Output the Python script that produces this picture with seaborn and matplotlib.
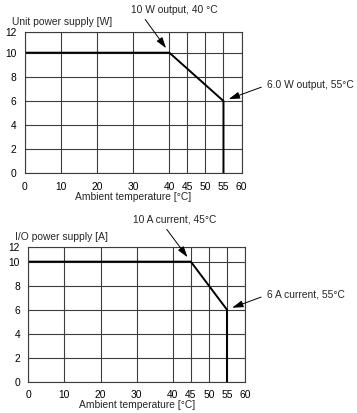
import matplotlib
matplotlib.use('Agg')
import matplotlib.pyplot as plt
import seaborn as sns

# ── data ──────────────────────────────────────────────
unit_temp = [0, 40, 55, 55]
unit_power = [10, 10, 6, 0]
io_temp = [0, 45, 55, 55]
io_current = [10, 10, 6, 0]

x_ticks = [0, 10, 20, 30, 40, 45, 50, 55, 60]
y_ticks = [0, 2, 4, 6, 8, 10]
y_tick_labels = ['0', '2', '4', '6', '8', '10', '12']

unit_notes = [('10 W output, 40 °C', (40, 10)), ('6.0 W output, 55°C', (55, 6))]
io_notes = [('10 A current, 45°C', (45, 10)), ('6 A current, 55°C', (55, 6))]

sns.set_style('white')
plt.rcParams['font.family'] = ['Liberation Sans', 'DejaVu Sans']
plt.rcParams['font.size'] = 7.4

fig = plt.figure(figsize=(3.57, 4.13), dpi=100)
ax1 = fig.add_axes([0.070, 0.580, 0.6065, 0.3433])
ax2 = fig.add_axes([0.0793, 0.0758, 0.607, 0.327])

grid_col = '#3c3c3c'


def setup(ax, ytop, title):
    ax.set_xlim(0, 60)
    ax.set_ylim(0, ytop)
    ax.set_xticks(x_ticks)
    ax.set_yticks(y_ticks + [ytop])
    ax.set_yticklabels(y_tick_labels)
    ax.grid(True, color=grid_col, linewidth=0.8)
    for s in ax.spines.values():
        s.set_color(grid_col)
        s.set_linewidth(0.8)
    ax.tick_params(length=0, pad=6, labelsize=7.4, colors='black')
    ax.set_xlabel('Ambient temperature [°C]', fontsize=7.4, labelpad=0)
    ax.set_ylabel('')
    ax.text(-0.06, 1.07, title, transform=ax.transAxes, fontsize=7.4,
            ha='left', va='center')


def note(ax, txt, xy, offset, ha, relpos, shrinkA, shrinkB):
    ax.annotate(txt, xy=xy, xytext=offset, textcoords='offset points',
                ha=ha, va='center', fontsize=7.4, annotation_clip=False,
                arrowprops=dict(arrowstyle='-|>,head_length=0.9,head_width=0.28',
                                color='black', lw=0.7, relpos=relpos,
                                shrinkA=shrinkA, shrinkB=shrinkB))


# top chart
sns.lineplot(x=unit_temp, y=unit_power, sort=False, estimator=None,
             color='black', linewidth=1.4, ax=ax1)
setup(ax1, 11.74, 'Unit power supply [W]')
note(ax1, unit_notes[0][0], unit_notes[0][1], (3.4, 30.7), 'center', (0.13, 0.0), 1, 4)
note(ax1, unit_notes[1][0], unit_notes[1][1], (31.5, 11.5), 'left', (0.0, 0.5), 2, 4)

# bottom chart
sns.lineplot(x=io_temp, y=io_current, sort=False, estimator=None,
             color='black', linewidth=1.4, ax=ax2)
setup(ax2, 11.25, 'I/O power supply [A]')
note(ax2, io_notes[0][0], io_notes[0][1], (-11.3, 30), 'center', (0.36, 0.0), 1, 4)
note(ax2, io_notes[1][0], io_notes[1][1], (28.8, 10.6), 'left', (0.0, 0.5), 2, 4)

plt.savefig('out.png', dpi=100)
